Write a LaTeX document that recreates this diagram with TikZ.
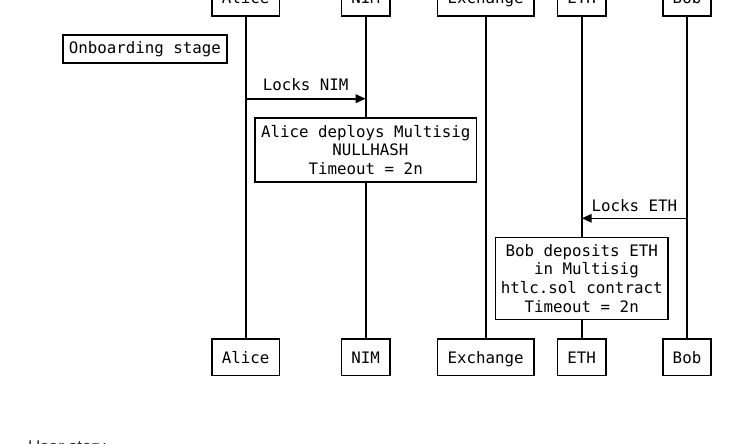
\documentclass[tikz,border=0pt]{standalone}
\usepackage{fontspec}
\setmainfont{DejaVu Sans Mono}
\newfontfamily\storyfont{Liberation Sans}
\usepackage{tikz}
\usetikzlibrary{arrows.meta}
\definecolor{storygray}{RGB}{51, 51, 51}

\begin{document}
\begin{tikzpicture}[x=1pt, y=-1pt, font=\fontsize{15.8}{18.7}\selectfont,
		actor/.style={draw, ultra thick, fill=white, minimum height=36.7pt, inner xsep=10pt, text height=12pt, text depth=0pt},
		note/.style={draw, ultra thick, fill=white, align=center},
		msg/.style={ultra thick, -{Triangle[length=10pt, width=8.5pt]}}]
		\clip (0,0) rectangle (744,444);
		\node[actor] (alice-top) at (245.7,-2.4) {Alice};
		\node[actor] (nim-top) at (365.7,-2.4) {NIM};
		\node[actor] (exch-top) at (485.7,-2.4) {Exchange};
		\node[actor] (eth-top) at (581.7,-2.4) {ETH};
		\node[actor] (bob-top) at (687,-2.4) {Bob};
		\node[actor] (alice-bot) at (245.7,357.3) {Alice};
		\node[actor] (nim-bot) at (365.7,357.3) {NIM};
		\node[actor] (exch-bot) at (485.7,357.3) {Exchange};
		\node[actor] (eth-bot) at (581.7,357.3) {ETH};
		\node[actor] (bob-bot) at (687,357.3) {Bob};
		\draw[ultra thick] (alice-top) -- (alice-bot);
		\draw[ultra thick] (nim-top) -- (nim-bot);
		\draw[ultra thick] (exch-top) -- (exch-bot);
		\draw[ultra thick] (eth-top) -- (eth-bot);
		\draw[ultra thick] (bob-top) -- (bob-bot);
		\node[draw, ultra thick, fill=white, minimum height=27.7pt, inner xsep=6pt] (stage) at (144.9,48.9) {Onboarding stage};
		\coordinate (lock-nim) at (0,98.7);
		\draw[msg] (alice-top |- lock-nim) -- (nim-top |- lock-nim) node[midway, above=3.5pt] (lock-nim-lab) {Locks NIM};
		\node[note, minimum height=64.3pt, inner xsep=6pt] (deploy) at (365.7,149.9) {Alice deploys Multisig\\~NULLHASH\\Timeout = 2n};
		\coordinate (lock-eth) at (0,218.3);
		\draw[msg] (bob-top |- lock-eth) -- (eth-top |- lock-eth) node[midway, above=2.5pt] (lock-eth-lab) {Locks ETH};
		\node[note, minimum height=82pt, inner xsep=5.5pt] (deposit) at (581.7,278.3) {Bob deposits ETH\\~in Multisig\\htlc.sol contract\\Timeout = 2n};
		\node[anchor=base west, inner sep=0pt, text=storygray, font=\storyfont\fontsize{17}{20}\selectfont] (story) at (28,452) {User story};
	\end{tikzpicture}
\end{document}
